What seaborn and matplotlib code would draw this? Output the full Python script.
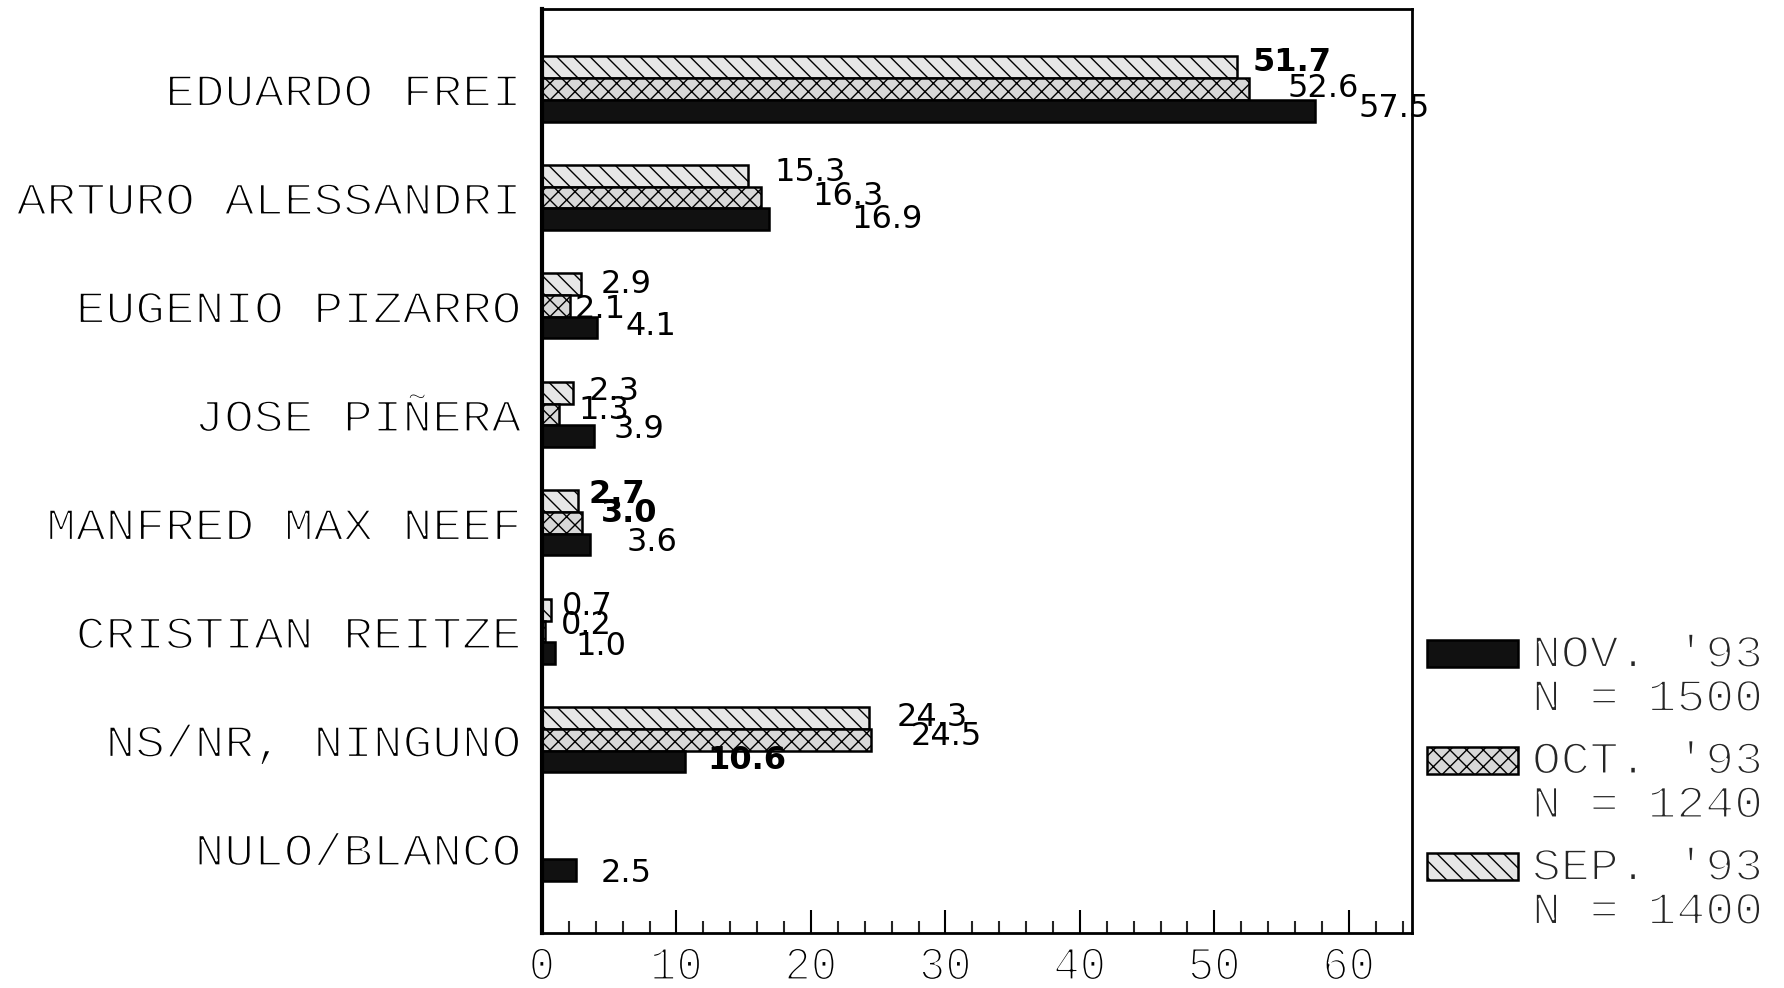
import numpy as np
import pandas as pd
import matplotlib
matplotlib.use("Agg")
import matplotlib.pyplot as plt
import seaborn as sns
from matplotlib.patheffects import AbstractPathEffect
from matplotlib.transforms import Affine2D
from matplotlib.patches import Rectangle
from matplotlib.ticker import MultipleLocator

# ---------------- data ----------------
candidates = ["EDUARDO FREI", "ARTURO ALESSANDRI", "EUGENIO PIZARRO", "JOSE PIÑERA",
              "MANFRED MAX NEEF", "CRISTIAN REITZE", "NS/NR, NINGUNO", "NULO/BLANCO"]
surveys = ["SEP. '93", "OCT. '93", "NOV. '93"]
sep_values = [51.7, 15.3, 2.9, 2.3, 2.7, 0.7, 24.3, None]
oct_values = [52.6, 16.3, 2.1, 1.3, 3.0, 0.2, 24.5, None]
nov_values = [57.5, 16.9, 4.1, 3.9, 3.6, 1.0, 10.6, 2.5]
sample_sizes = {"SEP. '93": "N = 1400", "OCT. '93": "N = 1240", "NOV. '93": "N = 1500"}
legend_order = ["NOV. '93", "OCT. '93", "SEP. '93"]
x_ticks = [0, 10, 20, 30, 40, 50, 60]

rows = []
for survey, vals in zip(surveys, [sep_values, oct_values, nov_values]):
    for cand, v in zip(candidates, vals):
        rows.append({"candidate": cand, "survey": survey, "value": v})
df = pd.DataFrame(rows).dropna()

# ---------------- styling ----------------
palette = {"SEP. '93": "#e6e6e6", "OCT. '93": "#d8d8d8", "NOV. '93": "#111111"}
hatches = {"SEP. '93": "\\\\", "OCT. '93": "xx", "NOV. '93": ""}
# label offsets (display px: dx from bar end, dy from bar centre)
label_offsets = {
    "SEP. '93": [(13.5, -4), (23.5, -3), (17, 0), (14, -1.5), (9, -6), (9, -3), (24, -1), None],
    "OCT. '93": [(33, 0), (45, -1), (3.4, 3), (17, -3), (16, -8), (14, -5), (34, -3), None],
    "NOV. '93": [(37.5, -2), (72, 0), (25, -1), (17, -6), (32, -2), (17.5, -6), (20, -1), (22, 3)],
}
bold_labels = {("EDUARDO FREI", "SEP. '93"), ("MANFRED MAX NEEF", "SEP. '93"),
               ("MANFRED MAX NEEF", "OCT. '93"), ("NS/NR, NINGUNO", "NOV. '93")}


class PlotterText(AbstractPathEffect):
    """Rescale glyphs horizontally and thin their strokes (pen-plotter lettering)."""
    def __init__(self, sx, anchor="right", erode=1.4):
        super().__init__()
        self._sx = sx
        self._anchor = anchor
        self._erode = erode

    def draw_path(self, renderer, gc, tpath, affine, rgbFace=None):
        verts = tpath.vertices
        x0 = 0.0
        if len(verts):
            xmax = float(np.nanmax(verts[:, 0]))
            if self._anchor == "right":
                x0 = xmax
            elif self._anchor == "center":
                x0 = xmax / 2
        tr = Affine2D().translate(-x0, 0).scale(self._sx, 1).translate(x0, 0) + affine
        renderer.draw_path(gc, tpath, tr, rgbFace)
        if self._erode > 0:
            gc0 = renderer.new_gc()
            gc0.copy_properties(gc)
            gc0.set_foreground("white")
            gc0.set_linewidth(self._erode)
            renderer.draw_path(gc0, tpath, tr, None)
            gc0.restore()


sns.set_style("white")
plt.rcParams["font.family"] = ["Liberation Mono", "DejaVu Sans Mono"]
plt.rcParams["hatch.linewidth"] = 1.0

W, H = 1784, 988
fig = plt.figure(figsize=(W / 100, H / 100), dpi=100)
ax = fig.add_axes([542 / W, 1 - 933 / H, (1412 - 542) / W, (933 - 9) / H])

sns.barplot(data=df, x="value", y="candidate", hue="survey", hue_order=surveys,
            order=candidates, orient="h", palette=palette, width=0.6, saturation=1,
            legend=False, errorbar=None, ax=ax)

for survey, cont in zip(surveys, ax.containers):
    for bar in cont:
        bar.set_hatch(hatches[survey])
        bar.set_edgecolor("black")
        bar.set_linewidth(1.8)

ax.set_xlim(0, 64.7)
ax.set_ylim(7.78, -0.737)
ax.set_xticks(x_ticks)
ax.set_xticklabels([str(t) for t in x_ticks])
ax.xaxis.set_minor_locator(MultipleLocator(2))
ax.set_xlabel("")
ax.set_ylabel("")
ax.tick_params(axis="x", which="major", direction="in", length=16.5, width=1.5,
               pad=9, labelsize=34, bottom=True, colors="black")
ax.tick_params(axis="x", which="minor", direction="in", length=8.5, width=1.5, bottom=True)
ax.tick_params(axis="y", length=0, pad=15, labelsize=33, colors="black")
for s in ax.spines.values():
    s.set_visible(True)
    s.set_color("black")
    s.set_linewidth(2)
ax.spines["left"].set_linewidth(3)

for lab in ax.get_yticklabels():
    lab.set_path_effects([PlotterText(1.08, "right", 1.5)])
for lab in ax.get_xticklabels():
    lab.set_path_effects([PlotterText(0.93, "center", 1.6)])

k = 1.1436 * 72 / 100
for survey, cont in zip(surveys, ax.containers):
    for bar in cont:
        w = bar.get_width()
        if not np.isfinite(w):
            continue
        cy = bar.get_y() + bar.get_height() / 2
        idx = int(round(cy))
        off = label_offsets[survey][idx]
        if off is None:
            continue
        bold = (candidates[idx], survey) in bold_labels
        ax.annotate(f"{w:.1f}", xy=(w, cy), xytext=(off[0] * k, -off[1] * k),
                    textcoords="offset points", ha="left", va="center", fontsize=23,
                    family=["Liberation Sans Narrow", "DejaVu Sans"],
                    fontweight="bold" if bold else "normal", color="black")

# legend (plotter style: swatch + two text lines)
for i, survey in enumerate(legend_order):
    base = 667 + 106.5 * i
    rect = Rectangle((1427 / W, 1 - base / H), 91 / W, 27 / H, transform=fig.transFigure,
                     facecolor=palette[survey], hatch=hatches[survey], edgecolor="black",
                     linewidth=1.8)
    fig.add_artist(rect)
    fig.text(1532 / W, 1 - base / H, survey, va="baseline", ha="left", fontsize=33,
             path_effects=[PlotterText(1.05, "left", 1.5)])
    fig.text(1532 / W, 1 - (base + 44) / H, sample_sizes[survey], va="baseline", ha="left",
             fontsize=33, path_effects=[PlotterText(1.05, "left", 1.5)])

fig.savefig("out.png", dpi=100)
